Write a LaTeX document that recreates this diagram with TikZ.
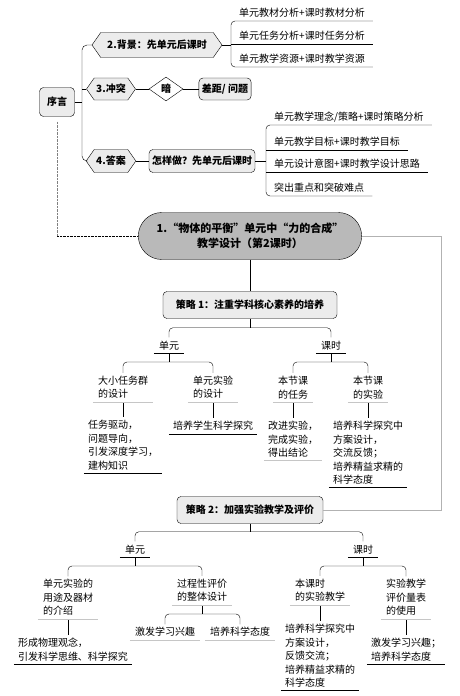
\documentclass[tikz,border=0pt]{standalone}
\usepackage{fontspec}
\setmainfont{Noto Sans CJK SC}
\usetikzlibrary{shapes.geometric,shapes.symbols,shapes.misc,calc}
\tikzset{
  lbl/.style={font=\fontsize{10}{13.5}\selectfont},
  hexbox/.style={draw,fill=gray!15,signal,signal to=west and east,signal pointer angle=110,
    font=\bfseries\fontsize{10}{12}\selectfont,inner ysep=4pt,inner xsep=2pt},
  grbox/.style={draw,fill=gray!15,rounded corners=4pt,font=\bfseries\fontsize{10}{12}\selectfont,inner sep=5pt},
  itm/.style={lbl,anchor=south west,inner xsep=8pt,inner ysep=3pt},
  tag/.style={lbl,anchor=south,inner xsep=5pt,inner ysep=3pt,align=left},
  leaf/.style={lbl,anchor=north,inner xsep=4pt,inner ysep=3pt,align=left},
}
\begin{document}
\begin{tikzpicture}[x=1pt,y=-1pt]
    \useasboundingbox (0,0) rectangle (460,696);
    \node[grbox,minimum width=35,minimum height=29] (xy) at (57,102) {序言};
    \coordinate (tr) at (82,102);
    \node[hexbox,minimum width=130,minimum height=25] (bg) at (157,45) {2.背景：先单元后课时};
    \node[hexbox,minimum width=38,minimum height=22] (ct) at (111,89) {3.冲突};
    \node[draw,diamond,aspect=1.4,inner sep=1pt,minimum width=34,minimum height=24,
      font=\bfseries\fontsize{10}{12}\selectfont] (an) at (166,89) {暗};
    \node[grbox,minimum height=22,inner sep=3pt] (cj) at (225,89) {差距/ 问题};
    \node[hexbox,minimum width=38,minimum height=23] (da) at (111,161) {4.答案};
    \node[grbox,minimum height=23,inner sep=3pt] (hw) at (202,161) {怎样做？先单元后课时};
    \node[itm] (b1) at (231,21) {单元教材分析+课时教材分析};
    \node[itm] (b2) at (231,44) {单元任务分析+课时任务分析};
    \node[itm] (b3) at (231,67) {单元教学资源+课时教学资源};
    \node[itm] (d1) at (266,125) {单元教学理念/策略+课时策略分析};
    \node[itm] (d2) at (266,150) {单元教学目标+课时教学目标};
    \node[itm] (d3) at (266,172) {单元设计意图+课时教学设计思路};
    \node[itm] (d4) at (266,196) {突出重点和突破难点};
    \node[draw,rounded rectangle,fill=gray!55,minimum width=230,minimum height=47,align=center,
      font=\bfseries\fontsize{11}{15}\selectfont] (main) at (250,236)
      {1.“物体的平衡”单元中“力的合成”\\教学设计（第2课时）};
    \coordinate (gr) at (441,236);
    \node[grbox,minimum width=174,minimum height=27] (s1) at (250,305) {策略 1：注重学科核心素养的培养};
    \node[tag] (u1) at (169,353) {单元};
    \node[tag] (k1) at (331,353) {课时};
    \node[tag] (p1) at (123,402) {大小任务群\\的设计};
    \node[tag] (p2) at (213,402) {单元实验\\的设计};
    \node[tag] (p3) at (293,402) {本节课\\的任务};
    \node[tag] (p4) at (368,402) {本节课\\的实验};
    \node[leaf] (q1) at (123,417) {任务驱动，\\问题导向，\\引发深度学习，\\建构知识};
    \node[leaf] (q2) at (213,418) {培养学生科学探究};
    \node[leaf] (q3) at (293,418) {改进实验，\\完成实验，\\得出结论};
    \node[leaf] (q4) at (368,418) {培养科学探究中\\方案设计，\\交流反馈；\\培养精益求精的\\科学态度};
    \node[grbox,minimum width=146,minimum height=27] (s2) at (250,510) {策略 2：加强实验教学及评价};
    \node[tag] (u2) at (135,557) {单元};
    \node[tag] (k2) at (363,557) {课时};
    \node[tag] (r1) at (68,619) {单元实验的\\用途及器材\\的介绍};
    \node[tag] (r2) at (202,605) {过程性评价\\的整体设计};
    \node[tag] (r3) at (320,605) {本课时\\的实验教学};
    \node[tag] (r4) at (406,619) {实验教学\\评价量表\\的使用};
    \node[leaf] (t1) at (73,635) {形成物理观念，\\引发科学思维、科学探究};
    \node[tag] (v1) at (165,640) {激发学习兴趣};
    \node[tag] (v2) at (240,640) {培养科学态度};
    \node[leaf] (t3) at (320,621) {培养科学探究中\\方案设计，\\反馈交流；\\培养精益求精的\\科学态度};
    \node[leaf] (t4) at (406,635) {激发学习兴趣；\\培养科学态度};
    \draw (xy.east) -- (tr);
    \draw[rounded corners=5pt] (bg.west) -| (tr) |- (da.west);
    \draw (ct.west) -- (ct.west -| tr);
    \draw (bg.east) -- (bg.east -| b2.south west);
    \draw[rounded corners=4pt] (b1.south east) -- (b1.south west) -- (b3.south west) -- (b3.south east);
    \draw (ct.east) -- (an.west);
    \draw (an.east) -- (cj.west);
    \draw (da.east) -- (hw.west);
    \draw (hw.east) -- (hw.east -| d1.south west);
    \draw[rounded corners=4pt] (d1.south east) -- (d1.south west) -- (d4.south west) -- (d4.south east);
    \draw[densely dotted,gray] ([yshift=-5pt]xy.south) -- (xy.south |- main.west) coordinate (dc);
    \draw[densely dotted] (dc) -- (main.west);
    \draw[gray!60] (main.east) -- (gr) |- (s2.east);
    \draw (main.south) -- (s1.north);
    \draw (s1.south) -- ++(0,9) coordinate (s1b);
    \draw[rounded corners=4pt] (u1.north) |- (s1b) -| (k1.north);
    \draw (u1.south) -- ++(0,9) coordinate (u1b);
    \draw[rounded corners=4pt] (p1.north) |- (u1b) -| (p2.north);
    \draw (k1.south) -- ++(0,9) coordinate (k1b);
    \draw[rounded corners=4pt] (p3.north) |- (k1b) -| (p4.north);
    \foreach \a/\b in {p1/q1,p2/q2,p3/q3,p4/q4,r1/t1,r3/t3,r4/t4}
      \draw (\a.south) -- (\a.south |- \b.north);
    \draw (s2.south) -- ++(0,8) coordinate (s2b);
    \draw[rounded corners=4pt] (u2.north) |- (s2b) -| (k2.north);
    \draw (u2.south) -- ++(0,9) coordinate (u2b);
    \draw[rounded corners=4pt] (r1.north) |- (u2b) -| (r2.north);
    \draw (k2.south) -- ++(0,9) coordinate (k2b);
    \draw[rounded corners=4pt] (r3.north) |- (k2b) -| (r4.north);
    \draw (r2.south) -- ++(0,9) coordinate (r2b);
    \draw[rounded corners=4pt] (v1.north) |- (r2b) -| (v2.north);
    \foreach \n in {b2,d2,d3,u1,k1,u2,k2,q1,q2,q4,t1,t3,t4}
      \draw (\n.south west) -- (\n.south east);
    \foreach \n in {p1,p2,p3,p4,q3,r1,r2,r3,r4,v1,v2}
      \draw[gray!45] (\n.south west) -- (\n.south east);
\end{tikzpicture}
\end{document}
